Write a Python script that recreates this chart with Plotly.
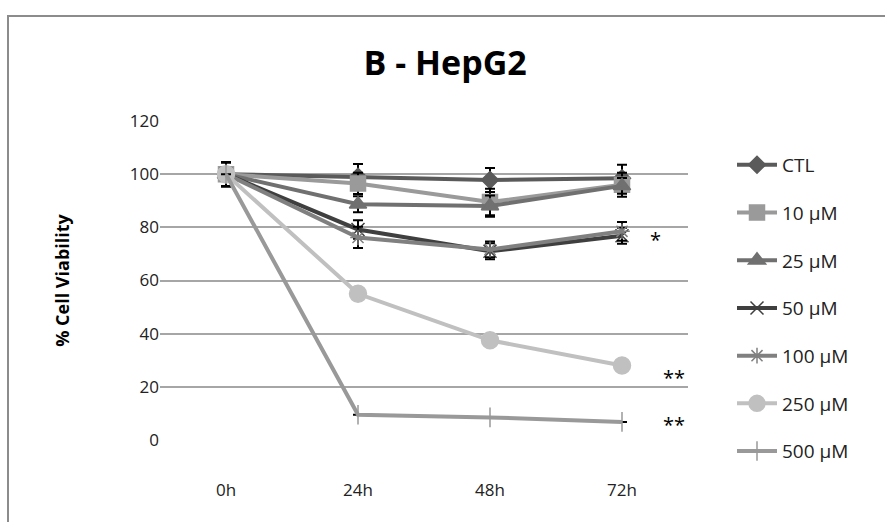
import plotly.graph_objects as go

times = ["0h", "24h", "48h", "72h"]
series_names = ["CTL", "10 µM", "25 µM", "50 µM", "100 µM", "250 µM", "500 µM"]
ctl = [100, 99, 97.8, 98.5]
c10 = [100, 96.5, 89.5, 96]
c25 = [100, 88.7, 88, 95.6]
c50 = [100, 79.2, 71, 76.8]
c100 = [100, 76.2, 71.7, 78.5]
c250 = [100, 55, 37.5, 28]
c500 = [100, 9.5, 8.5, 6.8]
err_ctl = [4.5, 4.8, 4.5, 5]
err_10 = [4.5, 4, 5, 4.5]
err_25 = [4.5, 3, 4, 3]
err_50 = [4.5, 3.5, 3, 3]
err_100 = [4.5, 4, 3, 3.5]
err_250 = [0, 0, 0, 0]
err_500 = [0, 0, 0, 0]

values = [ctl, c10, c25, c50, c100, c250, c500]
errors = [err_ctl, err_10, err_25, err_50, err_100, err_250, err_500]
colors = ["#5a5a5a", "#9a9a9a", "#707070", "#3f3f3f", "#808080", "#c0c0c0", "#999999"]
symbols = ["diamond", "square", "triangle-up", "x-thin-open", "asterisk-open", "circle", "line-ns-open"]
sizes = [13, 15, 15, 13, 13, 17, 14]

fig = go.Figure()
for name, v, e, c, s, sz in zip(series_names, values, errors, colors, symbols, sizes):
    fig.add_trace(go.Scatter(
        x=times, y=v, name=name, mode="lines+markers", legendgroup=name,
        line=dict(color=c, width=4),
        marker=dict(symbol=s, size=sz, color=c, line=dict(color=c, width=1.5)),
        error_y=dict(type="data", array=e, visible=True, color="black", thickness=2, width=5),
    ))

fig.add_annotation(x=(655 - 160) / 528, y=75.5, xref="paper", yref="y", text="*", showarrow=False,
                   font=dict(size=20, color="black"), xanchor="center")
fig.add_annotation(x=(661 - 160) / 528, y=23.4, xref="paper", yref="y", text="**", showarrow=False,
                   font=dict(size=20, color="black"), xanchor="left")
fig.add_annotation(x=(661 - 160) / 528, y=6, xref="paper", yref="y", text="**", showarrow=False,
                   font=dict(size=20, color="black"), xanchor="left")

fig.add_shape(type="rect", xref="paper", yref="paper",
              x0=-152 / 528, x1=(885 - 160 + 20) / 528,
              y0=-100 / 319, y1=(440 - 16) / 319,
              line=dict(color="#8c8c8c", width=2), fillcolor="rgba(0,0,0,0)", layer="below")

fig.update_layout(
    width=885, height=522,
    margin=dict(l=160, r=197, t=121, b=82),
    paper_bgcolor="white", plot_bgcolor="white",
    font=dict(family="Open Sans, Liberation Sans, sans-serif", size=17, color="#222"),
    title=dict(text="<b>B - HepG2</b>", x=0.503, xanchor="center", y=0.88, yanchor="middle",
               font=dict(size=34, color="black", family="Open Sans, sans-serif")),
    showlegend=True,
    legend=dict(x=(732 - 160) / 528, xanchor="left", y=(440 - 146) / 319, yanchor="top",
                tracegroupgap=20, font=dict(size=19, color="#222"), itemwidth=40,
                bgcolor="rgba(0,0,0,0)", maxheight=480),
    xaxis=dict(showgrid=False, showline=False, ticks="", zeroline=False, tickfont=dict(size=17),
               range=[-0.5, 3.5], ticklabelstandoff=38),
    yaxis=dict(range=[0, 120], dtick=20, showgrid=True, gridcolor="#a6a6a6", gridwidth=1.5,
               zeroline=False, showline=False, ticks="", tickfont=dict(size=17),
               title=dict(text="<b>% Cell Viability</b>", font=dict(size=18, color="black"), standoff=55)),
)
fig.write_html("out.html")
